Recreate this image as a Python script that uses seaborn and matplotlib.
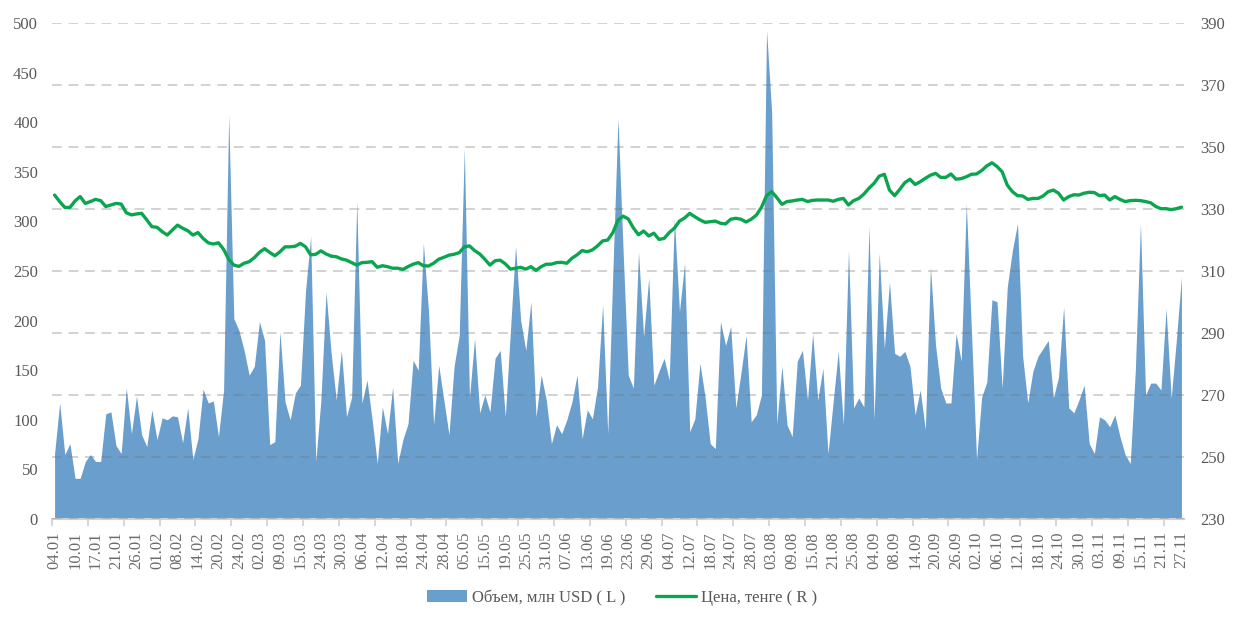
import numpy as np
import pandas as pd
import matplotlib
matplotlib.use("Agg")
import matplotlib.pyplot as plt
import seaborn as sns
from matplotlib.patches import Patch
from matplotlib.lines import Line2D

# ---- data -------------------------------------------------------------
tick_labels = ["04.01", "10.01", "17.01", "21.01", "26.01", "01.02", "08.02", "14.02",
               "20.02", "24.02", "02.03", "09.03", "15.03", "24.03", "30.03", "06.04",
               "12.04", "18.04", "24.04", "28.04", "05.05", "15.05", "19.05", "25.05",
               "31.05", "07.06", "13.06", "19.06", "23.06", "29.06", "04.07", "12.07",
               "18.07", "24.07", "28.07", "03.08", "09.08", "15.08", "21.08", "25.08",
               "04.09", "08.09", "14.09", "20.09", "26.09", "02.10", "06.10", "12.10",
               "18.10", "24.10", "30.10", "03.11", "09.11", "15.11", "21.11", "27.11"]

volume = [66, 117, 65, 76, 41, 41, 58, 65, 58, 58,
          106, 108, 74, 66, 132, 86, 124, 85, 73, 110,
          80, 102, 100, 104, 103, 77, 112, 60, 81, 131,
          117, 119, 83, 130, 407, 202, 190, 170, 145, 154,
          199, 180, 75, 78, 189, 118, 100, 127, 135, 230,
          285, 58, 120, 229, 167, 120, 170, 103, 123, 320,
          117, 140, 100, 56, 113, 86, 133, 56, 80, 96,
          160, 150, 278, 210, 95, 155, 120, 85, 154, 185,
          374, 122, 182, 107, 125, 108, 162, 170, 103, 190,
          275, 200, 170, 219, 103, 145, 120, 76, 95, 86,
          100, 118, 145, 81, 110, 101, 133, 216, 86, 250,
          404, 270, 145, 132, 269, 184, 243, 135, 149, 162,
          140, 303, 209, 258, 88, 101, 157, 123, 76, 71,
          199, 175, 194, 112, 147, 185, 98, 105, 125, 493,
          410, 96, 154, 95, 83, 159, 170, 120, 187, 120,
          152, 66, 118, 169, 95, 271, 112, 122, 113, 295,
          100, 268, 172, 239, 167, 164, 169, 154, 105, 130,
          90, 254, 175, 132, 117, 117, 187, 159, 318, 190,
          60, 123, 138, 221, 219, 132, 234, 271, 298, 164,
          117, 149, 164, 172, 180, 122, 143, 214, 112, 107,
          120, 135, 76, 66, 103, 100, 93, 105, 83, 65,
          56, 150, 298, 125, 137, 137, 130, 212, 122, 180,
          244]

price = [334.5, 332.4, 330.5, 330.5, 332.6, 334.0, 331.8, 332.4, 333.1, 332.7,
         330.8, 331.3, 331.8, 331.6, 328.8, 328.1, 328.4, 328.6, 326.5, 324.3,
         324.1, 322.7, 321.6, 323.2, 324.8, 323.8, 323.0, 321.6, 322.4, 320.5,
         319.1, 318.7, 319.1, 317.0, 313.8, 311.9, 311.5, 312.5, 313.0, 314.3,
         316.0, 317.2, 316.0, 314.9, 316.2, 317.8, 317.8, 318.0, 318.9, 317.8,
         315.2, 315.4, 316.5, 315.5, 314.8, 314.6, 313.9, 313.5, 312.7, 311.9,
         312.7, 312.8, 313.0, 311.2, 311.7, 311.4, 310.9, 310.9, 310.5, 311.4,
         312.2, 312.7, 311.7, 311.6, 312.5, 313.8, 314.4, 315.1, 315.4, 315.9,
         317.8, 318.1, 316.6, 315.5, 313.8, 311.9, 313.3, 313.5, 312.3, 310.6,
         310.9, 311.2, 310.6, 311.4, 310.2, 311.4, 312.2, 312.2, 312.7, 312.8,
         312.5, 314.1, 315.2, 316.6, 316.2, 316.8, 318.1, 319.7, 320.0, 322.4,
         326.4, 327.7, 326.8, 323.9, 321.7, 322.9, 321.3, 322.2, 320.2, 320.5,
         322.4, 323.8, 326.1, 327.1, 328.6, 327.5, 326.5, 325.7, 325.9, 326.1,
         325.4, 325.2, 326.7, 327.0, 326.7, 325.8, 326.7, 328.0, 330.5, 334.3,
         335.6, 333.7, 331.5, 332.4, 332.6, 332.9, 333.1, 332.4, 332.8, 332.9,
         332.9, 332.9, 332.5, 333.1, 333.4, 331.3, 332.7, 333.4, 334.8, 336.7,
         338.3, 340.6, 341.2, 336.1, 334.3, 336.3, 338.5, 339.6, 337.9, 338.8,
         339.9, 340.9, 341.5, 340.2, 340.2, 341.3, 339.6, 339.8, 340.4, 341.2,
         341.3, 342.4, 343.9, 344.9, 343.7, 342.0, 337.7, 335.6, 334.3, 334.2,
         333.1, 333.4, 333.4, 334.2, 335.6, 336.1, 335.1, 332.9, 334.0, 334.6,
         334.5, 335.1, 335.4, 335.3, 334.3, 334.5, 332.9, 334.0, 333.1, 332.4,
         332.7, 332.8, 332.7, 332.4, 332.0, 330.8, 330.1, 330.1, 329.8, 330.1,
         330.6]

series_names = ["Объем, млн USD ( L )", "Цена, тенге ( R )"]

# ---- styling ------------------------------------------------------------
sns.set_theme(style="white")
plt.rcParams["font.family"] = ["Liberation Serif", "DejaVu Serif"]

BLUE = "#6A9ECC"
GREEN = "#0AA64F"
TXT = "#595959"

df = pd.DataFrame({"idx": np.arange(len(volume)), "volume": volume, "price": price})

fig = plt.figure(figsize=(12.37, 6.25), dpi=100)
ax = fig.add_axes([52 / 1237, 1 - 519 / 625, (1184 - 52) / 1237, (519 - 23) / 625])
ax2 = ax.twinx()

ax.fill_between(df["idx"], 0, df["volume"], color=BLUE, linewidth=0, zorder=1)
sns.lineplot(data=df, x="idx", y="price", ax=ax2, color=GREEN, linewidth=2.4, zorder=3)

ax.set_xlim(-0.5, len(volume) - 0.5)
ax.set_ylim(0, 500)
ax.set_yticks(np.arange(0, 501, 50))
ax2.set_ylim(230, 390)
ax2.set_yticks(np.arange(230, 391, 20))

# grid from the secondary axis, drawn above the area
ax2.grid(axis="y", color=(0.45, 0.45, 0.45), alpha=0.32, linestyle=(0, (5, 3.5)), linewidth=1.4)
ax2.set_axisbelow(False)
ax.grid(False)
ax2.grid(axis="x", visible=False)

# x ticks: labels every 4 categories, tick marks every 7 categories
ax.set_xticks(np.arange(0, len(volume), 4))
ax.set_xticklabels(tick_labels, rotation=90, fontsize=12, color="#6B6B6B")
ax.set_xticks(np.arange(-0.5, len(volume), 7), minor=True)
ax.tick_params(axis="x", which="major", length=0, pad=9)
ax.tick_params(axis="x", which="minor", length=5, width=1.2, color="#D0D0D0", direction="out", bottom=True)
ax.tick_params(axis="y", length=0, labelsize=12, labelcolor=TXT, pad=10)
ax2.tick_params(axis="y", length=0, labelsize=12, labelcolor=TXT, pad=12)
ax2.tick_params(axis="x", bottom=False)

for a in (ax, ax2):
    for s in ("top", "left", "right"):
        a.spines[s].set_visible(False)
ax2.spines["bottom"].set_visible(False)
ax.spines["bottom"].set_color("#D0D0D0")
ax.spines["bottom"].set_linewidth(1.5)

ax.set_xlabel("")
ax.set_ylabel("")
ax2.set_xlabel("")
ax2.set_ylabel("")

handles = [Patch(facecolor=BLUE, edgecolor="none"),
           Line2D([0], [0], color=GREEN, linewidth=2.4)]
fig.legend(handles, series_names, loc="center", bbox_to_anchor=(0.503, 1 - 598 / 625),
           ncol=2, frameon=False, fontsize=12, handlelength=2.4, handleheight=0.75,
           columnspacing=1.8, handletextpad=0.3, labelcolor=TXT)

fig.savefig("out.png", dpi=100)
